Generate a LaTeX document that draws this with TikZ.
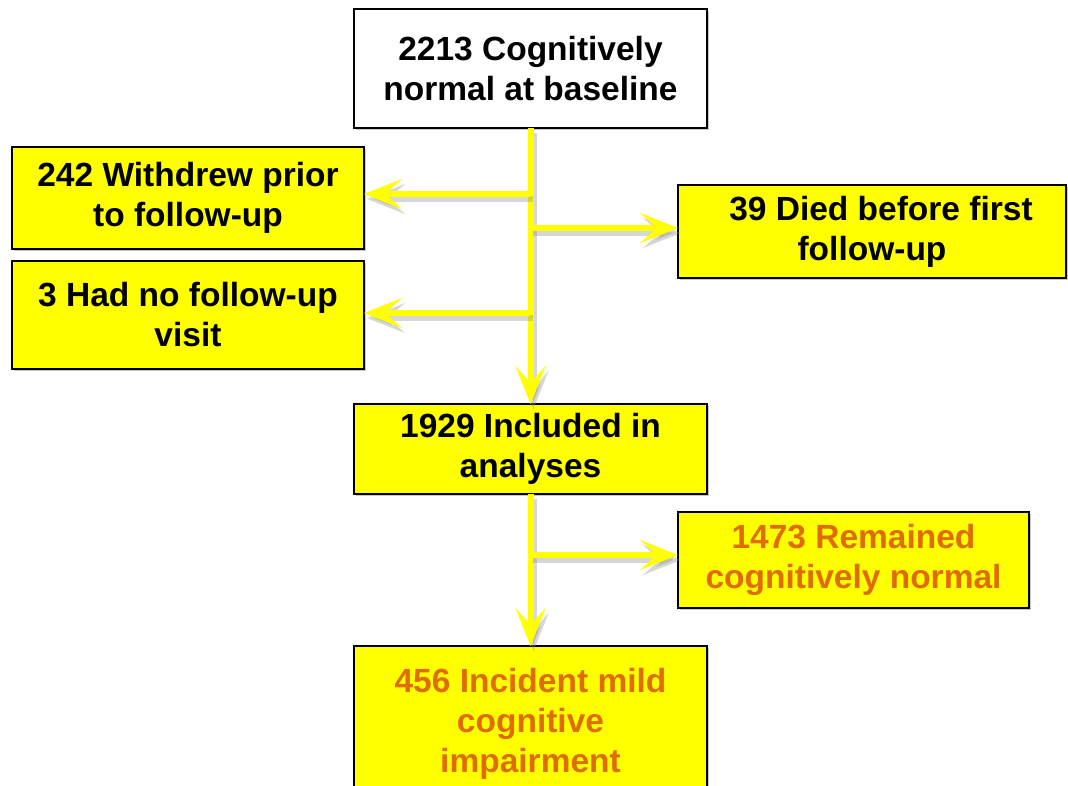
\documentclass[tikz,border=0pt]{standalone}
\usepackage{fontspec}
\setmainfont{Liberation Sans}
\usetikzlibrary{arrows.meta,shadows}

\definecolor{boxyellow}{RGB}{255,255,0}
\definecolor{outcome}{RGB}{224,108,0}

\tikzset{
  flowbox/.style={draw=black, line width=2pt, fill=boxyellow, align=center,
    inner sep=0pt, outer sep=0pt,
    font=\fontsize{33.5}{40}\selectfont\bfseries,
    drop shadow={shadow xshift=2pt, shadow yshift=-2pt, fill=black!35, opacity=0.6}},
  flowarrow/.style={draw=boxyellow, line width=6pt,
    -{Stealth[length=38pt, width=30pt, inset=17pt]},
    preaction={draw=black!45, opacity=0.35, line width=6pt,
      transform canvas={shift={(3pt,-5pt)}}}}
}

\begin{document}
\begin{tikzpicture}[x=1pt, y=-1pt]

\clip (0,0) rectangle (1068,785);
\fill[white] (0,0) rectangle (1068,785);

% boxes
\node[flowbox, fill=white, minimum width=353pt, minimum height=119pt] (base) at (530.5, 68.5)
  {2213 Cognitively\\normal at baseline};
\node[flowbox, minimum width=352pt, minimum height=102pt] (withdrew) at (188, 198)
  {242 Withdrew prior\\to follow-up};
\node[flowbox, minimum width=352pt, minimum height=108pt] (novisit) at (188, 315)
  {3 Had no follow-up\\visit};
\node[flowbox, minimum width=388pt, minimum height=93pt] (died) at (872, 231.5)
  {\hspace*{18pt}39 Died before first\\follow-up};
\node[flowbox, minimum width=353pt, minimum height=90pt] (incl) at (530.5, 449)
  {1929 Included in\\analyses};
\node[flowbox, text=outcome, minimum width=351pt, minimum height=96pt] (remain) at (853.5, 560)
  {1473 Remained\\cognitively normal};
\node[flowbox, text=outcome, minimum width=353pt, minimum height=155pt] (mci) at (530.5, 723.5)
  {456 Incident mild\\cognitive\\impairment};

% junctions on the trunk
\coordinate (J1) at (530, 194);
\coordinate (J2) at (530, 228);
\coordinate (J3) at (530, 313);
\coordinate (J4) at (530, 555);

% connectors
\draw[flowarrow] (base.south) -- (incl.north);
\draw[flowarrow] (J1) -- (J1 -| withdrew.east);
\draw[flowarrow] (J2) -- (J2 -| died.west);
\draw[flowarrow] (J3) -- (J3 -| novisit.east);
\draw[flowarrow] (incl.south) -- (mci.north);
\draw[flowarrow] (J4) -- (J4 -| remain.west);

\end{tikzpicture}
\end{document}
